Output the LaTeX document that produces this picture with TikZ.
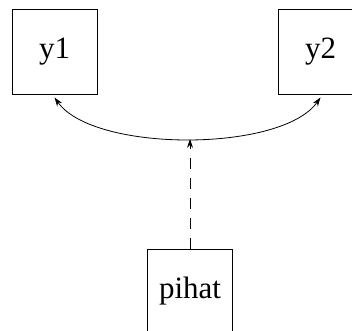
\documentclass[tikz,border=0pt]{standalone}
\usepackage{fontspec}
\setmainfont{Liberation Serif}
\usepackage{tikz}
\usetikzlibrary{calc,arrows.meta}

\begin{document}
\begin{tikzpicture}[x=1pt, y=1pt, >={Stealth[length=9pt,width=6pt]}, line width=0.8pt,
    varbox/.style={draw, minimum size=85pt, inner sep=0pt, font=\fontsize{31}{34}\selectfont}]
    \useasboundingbox (0,0) rectangle (352,330);
    \node[varbox] (y1) at (54.5,278.5) {y1};
    \node[varbox] (y2) at (320.5,278.5) {y2};
    \node[varbox] (pihat) at (190,38.5) {pihat};
    \draw[<->] ([yshift=-3pt]y1.south) to[out=-55, in=-125, looseness=0.65]
      coordinate[pos=0.5] (mid) ([yshift=-3pt]y2.south);
    \draw[->, dash pattern=on 11pt off 9pt] (pihat.north) -- (pihat.north |- mid);
  \end{tikzpicture}
\end{document}
